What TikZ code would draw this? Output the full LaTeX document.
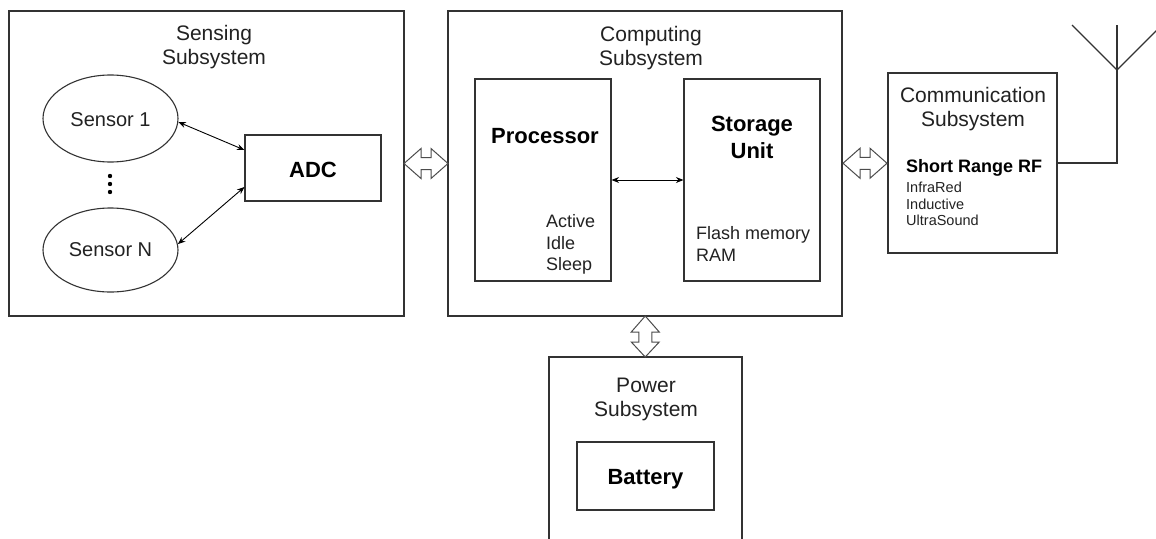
\documentclass[tikz,border=0pt]{standalone}
\usepackage{fontspec}
\setmainfont{Liberation Sans}
\usetikzlibrary{shapes.geometric,arrows.meta,calc}
\definecolor{linec}{HTML}{333333}
\definecolor{textc}{HTML}{222222}
\tikzset{
  box/.style={draw=linec, line width=1.1pt, fill=white, rectangle, inner sep=0pt},
  oval/.style={draw=linec, line width=1.1pt, ellipse, inner sep=0pt},
  title/.style={text=textc, align=center, font=\fontsize{21}{24}\selectfont},
  boldlbl/.style={text=black, align=center, font=\bfseries\fontsize{22}{27}\selectfont},
  plainlbl/.style={text=textc, align=left, font=\fontsize{18}{21.5}\selectfont, inner sep=0pt},
  smalllbl/.style={text=textc, align=left, font=\fontsize{14.5}{16.5}\selectfont, inner sep=0pt},
  conn/.style={draw=black, line width=0.9pt, {Stealth[length=7.5pt,width=6pt]}-{Stealth[length=7.5pt,width=6pt]}},
  hollow/.style={draw=black!70, line width=1pt, fill=white, line join=miter},
  hollowh/.pic={\draw[hollow] (-22,0) -- (-5,-15) -- (-5,-6) -- (5,-6) -- (5,-15) -- (22,0) -- (5,15) -- (5,6) -- (-5,6) -- (-5,15) -- cycle;},
  hollowv/.pic={\draw[hollow] (0,-20.5) -- (14,-4.5) -- (6.5,-4.5) -- (6.5,5.5) -- (14,5.5) -- (0,20.5) -- (-14,5.5) -- (-6.5,5.5) -- (-6.5,-4.5) -- (-14,-4.5) -- cycle;}
}
\begin{document}
\begin{tikzpicture}[x=1pt,y=-1pt]
\useasboundingbox (0,0) rectangle (1156,538);
\clip (0,0) rectangle (1156,538);
\fill[white] (0,0) rectangle (1156,538);
% outer subsystems
\node[box, minimum width=395pt, minimum height=305pt] (sensing) at (206.5,163.5) {};
\node[box, minimum width=394pt, minimum height=305pt] (computing) at (645,163.5) {};
\node[box, minimum width=169pt, minimum height=180pt] (comm) at (972.5,163) {};
\node[box, minimum width=193pt, minimum height=203pt] (power) at (645.5,458.5) {};
% titles
\node[title] (sensingt) at (214,47) {Sensing\\Subsystem};
\node[title] (computingt) at (651,48) {Computing\\Subsystem};
\node[title] (commt) at (973,109) {Communication\\Subsystem};
\node[title] (powert) at (646,399.5) {Power\\Subsystem};
% sensing contents
\node[oval, minimum width=135pt, minimum height=87pt] (s1) at (110.5,118.5) {};
\node[oval, minimum width=135pt, minimum height=84pt] (sn) at (110.5,250) {};
\node[title, font=\fontsize{20}{24}\selectfont] (s1t) at (110.5,119.5) {Sensor 1};
\node[title, font=\fontsize{20}{24}\selectfont] (snt) at (110.5,249.5) {Sensor N};
\fill[black] (110,176) circle (2.2pt) (110,184) circle (2.2pt) (110,192) circle (2.2pt);
\node[box, minimum width=136pt, minimum height=66pt] (adc) at (313,168) {};
\node[boldlbl] (adct) at (313,170) {ADC};
\draw[conn] (s1.-3) -- ([yshift=18pt]adc.west);
\draw[conn] (sn.5) -- ([yshift=-19pt]adc.west);
% computing contents
\node[box, minimum width=136pt, minimum height=202pt] (proc) at (543,180) {};
\node[box, minimum width=136pt, minimum height=202pt] (stor) at (752,180) {};
\node[boldlbl] (proct) at (545,136.5) {Processor};
\node[boldlbl] (stort) at (752,137) {Storage\\Unit};
\node[plainlbl, anchor=west] (procm) at (546,244.5) {Active\\Idle\\Sleep};
\node[plainlbl, anchor=west] (storm) at (696,244) {Flash memory\\RAM};
\draw[conn] (proc.east) -- (stor.west);
% communication contents
\node[text=black, font=\bfseries\fontsize{18}{21}\selectfont, inner sep=0pt, anchor=west] (srrf) at (906,167.5) {Short Range RF};
\node[smalllbl, anchor=west] (rfl) at (906,204) {InfraRed\\Inductive\\UltraSound};
% power contents
\node[box, minimum width=137pt, minimum height=68pt] (batt) at (645.5,476) {};
\node[boldlbl] (battt) at (645.5,479) {Battery};
% antenna
\coordinate (ant) at (1117,70);
\coordinate (anttop) at (1117,25);
\coordinate (antl) at (1072,25);
\coordinate (antr) at (1162,25);
\draw[linec, line width=1.1pt] (comm.east) -| (ant) -- (anttop);
\draw[linec, line width=1.1pt] (antl) -- (ant) -- (antr);
% hollow double arrows
\pic at ($(sensing.east)!0.5!(computing.west)$) {hollowh};
\pic at ($(computing.east)!0.5!(comm.west)$) {hollowh};
\pic at ($(computing.south)!0.5!(power.north)$) {hollowv};
\end{tikzpicture}
\end{document}
